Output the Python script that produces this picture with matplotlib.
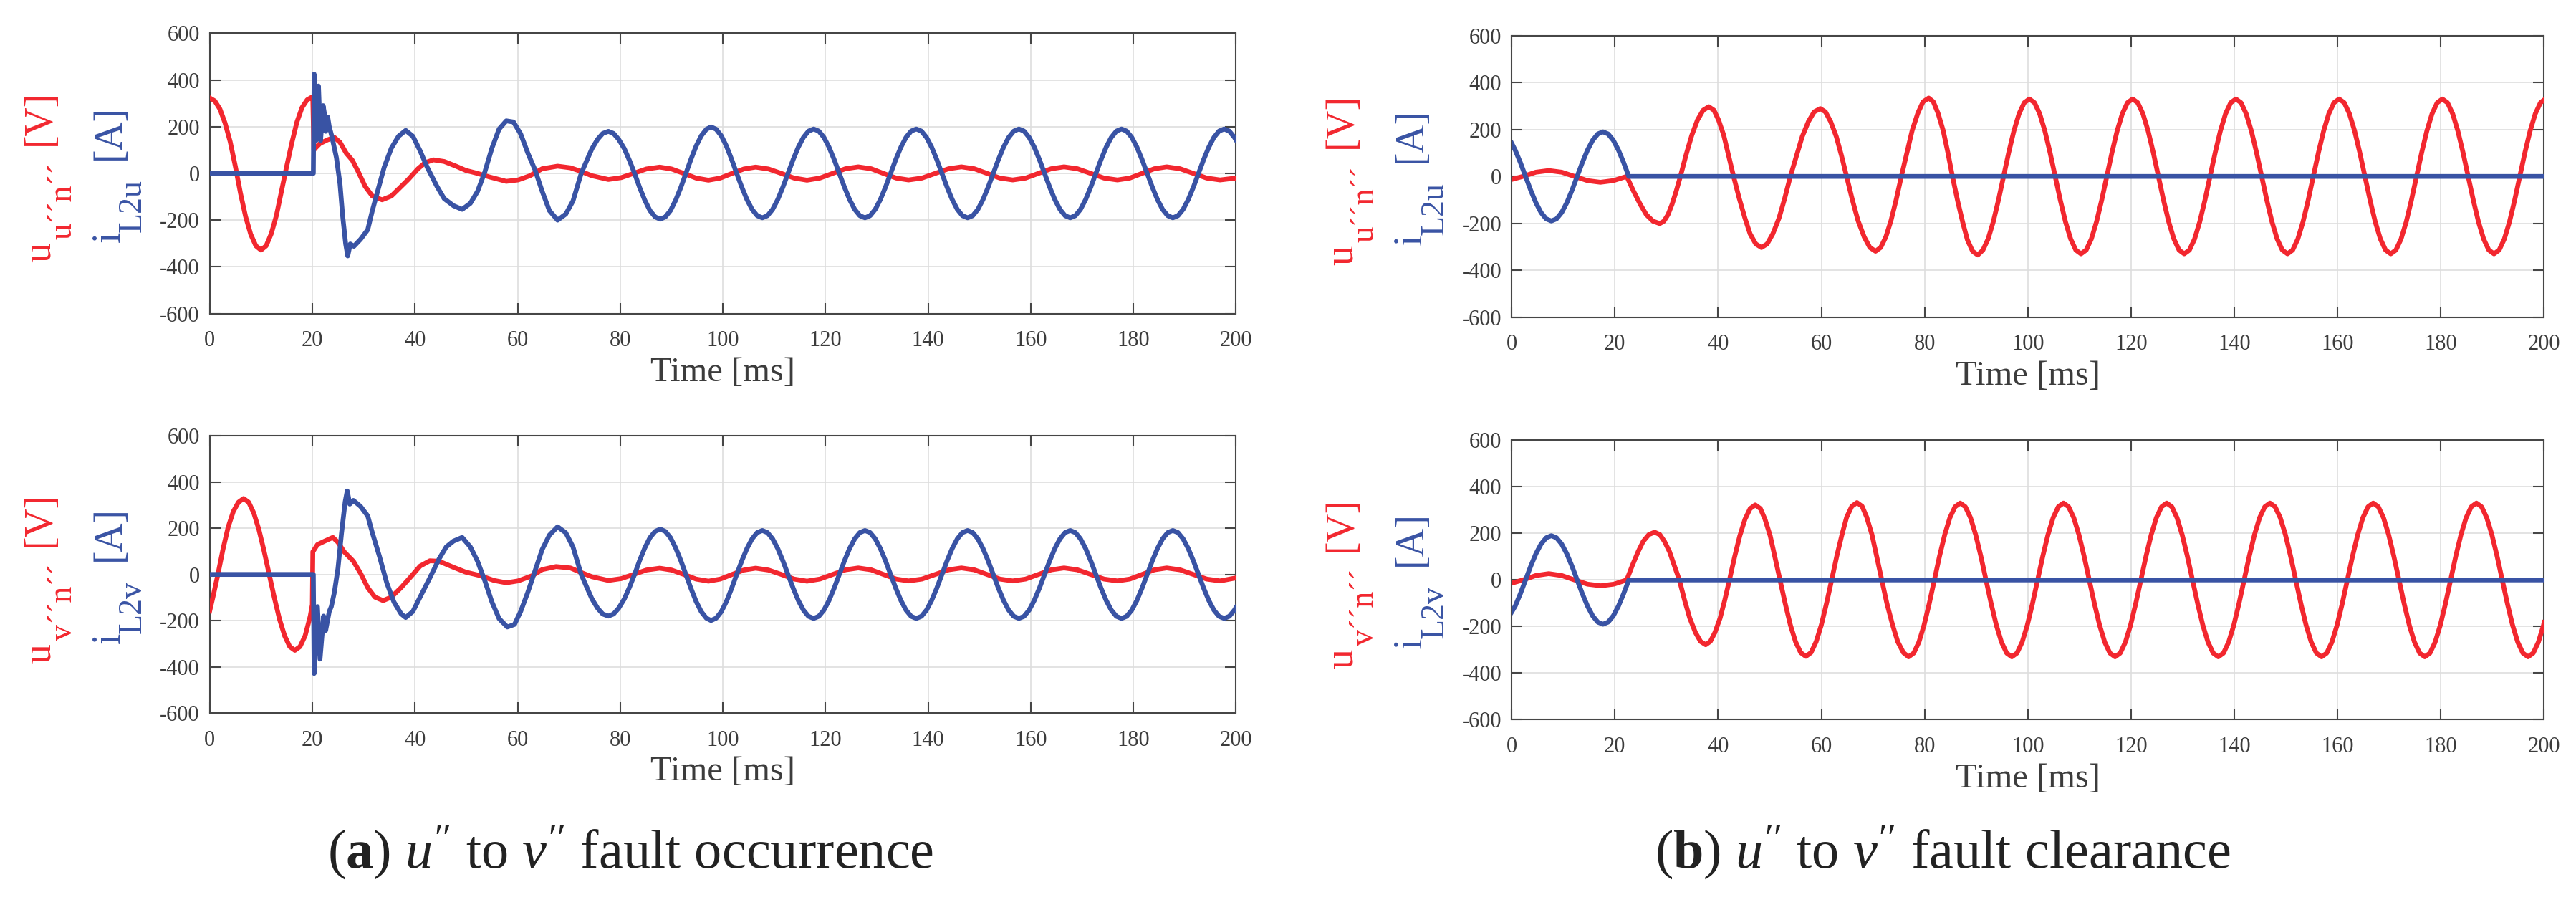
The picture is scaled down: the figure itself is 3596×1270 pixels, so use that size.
import matplotlib
matplotlib.use("Agg")
import matplotlib.pyplot as plt

plt.rcParams['font.family'] = ['Liberation Serif', 'DejaVu Serif']
plt.rcParams['mathtext.fontset'] = 'custom'
plt.rcParams['mathtext.rm'] = 'Liberation Serif'
plt.rcParams['mathtext.it'] = 'Liberation Serif:italic'
plt.rcParams['mathtext.bf'] = 'Liberation Serif:bold'

# ---------------- axes ticks ----------------
x_ticks = [0, 20, 40, 60, 80, 100, 120, 140, 160, 180, 200]
y_ticks = [-600, -400, -200, 0, 200, 400, 600]

# ---------------- (a) fault occurrence ----------------
# voltage u''n'' (red, top-left)
t_uu_a_tr = [0, 1, 2, 3, 4, 5, 6, 7, 8, 9, 10, 11, 12, 13, 14, 15, 16, 17, 18, 19,
             19.8, 20.1, 20.3, 20.6, 21.5, 22.9, 24.3, 25.4, 26.6, 27.8,
             29.0, 30.3, 31.7, 33.6, 35.4, 36.8, 38.7, 40.6, 42.0, 43.6,
             45.7, 48.0, 49.9, 52.2, 54.5, 57.8, 60.1, 62.4, 64.8, 67.8,
             70.3, 72.2]
v_uu_a_tr = [323, 310, 275, 215, 135, 30, -85, -185, -261, -310, -328, -310, -258, -180, -75, 30, 130, 220, 282, 315,
             325, 320, 100, 108, 128, 143, 154, 133, 87, 56,
             5, -56, -97, -113, -97, -67, -26, 20, 46, 58,
             51, 31, 13, 0, -15, -34, -28, -10, 20, 31,
             24, 10]
# voltage v''n'' (red, bottom-left)
t_vv_a_tr = [0, 0.6, 1.6, 2.6, 3.6, 4.6, 5.6, 6.6, 7.6, 8.6,
             9.6, 10.6, 11.6, 12.6, 13.6, 14.6, 15.6, 16.6, 17.6, 18.6,
             19.6, 20.0, 20.1, 21.0, 22.4, 24.0, 25.0, 26.2, 28.0, 29.4,
             30.8, 32.2, 33.8, 35.4, 37.3, 39.2, 41.0, 42.9, 44.7, 47.5,
             49.9, 52.7, 55.4, 57.8, 60.1, 62.9, 64.8, 67.5, 70.3, 72.2]
v_vv_a_tr = [-158, -101, 0, 110, 205, 272, 312, 328, 312, 265,
             193, 101, 0, -101, -193, -265, -312, -328, -312, -265,
             -180, -130, 98, 129, 144, 160, 139, 98, 57, 5,
             -57, -98, -113, -98, -57, -10, 36, 59, 57, 31,
             10, -5, -26, -36, -28, -5, 21, 34, 28, 10]
# post-fault steady voltage (both phases)
t_u_a_ss = [74.5, 77.7, 80.2, 82.6, 85.1, 87.7, 90.0, 92.4, 94.8, 97.2,
            99.5, 101.8, 104.1, 106.4, 108.9, 111.4, 113.9, 116.4, 118.9, 121.4,
            123.9, 126.4, 128.9, 131.3, 133.8, 136.2, 138.8, 141.4, 144.0, 146.5,
            149.0, 151.5, 154.0, 156.5, 159.0, 161.5, 164.0, 166.5, 169.1, 171.7,
            174.3, 176.9, 179.3, 181.7, 184.1, 186.5, 189.1, 191.7, 194.3, 196.9,
            200]
v_uu_a_ss = [-10, -26, -18, 0, 19, 27, 19, 0, -20, -29,
             -20, 0, 19, 27, 19, 0, -20, -29, -20, 0,
             20, 28, 20, 0, -20, -28, -20, 0, 20, 28,
             20, 0, -20, -28, -20, 0, 20, 28, 20, 0,
             -20, -28, -20, 0, 20, 28, 20, 0, -20, -28,
             -20]
v_vv_a_ss = [-10, -26, -18, 0, 19, 27, 19, 0, -20, -29,
             -20, 0, 19, 27, 19, 0, -20, -29, -20, 0,
             20, 28, 20, 0, -20, -28, -20, 0, 20, 28,
             20, 0, -20, -28, -20, 0, 20, 28, 20, 0,
             -20, -28, -20, 0, 20, 28, 20, 0, -20, -28,
             -15]

# current iL2u (blue, top-left)
t_iu_a_tr = [0, 20.2, 20.35, 20.7, 21.2, 21.6, 22.1, 22.4, 22.6, 23.0,
             23.3, 23.8, 24.7, 25.4, 25.9, 26.5, 26.9, 27.4, 28.1, 29.4,
             30.8, 31.7, 32.6, 34.0, 35.4, 36.8, 38.2, 39.6, 41.0, 42.4,
             44.3, 45.7, 47.5, 49.2, 50.8, 52.2, 53.6, 55.0, 56.4, 57.8,
             59.2, 60.6, 62.0, 63.4, 64.8, 66.2, 67.8, 69.4, 70.8, 72.4]
i_u_a_tr = [0, 0, 425, 140, 374, 140, 290, 251, 180, 241,
            200, 159, 67, -46, -179, -302, -353, -302, -312, -282,
            -241, -159, -87, 26, 108, 159, 184, 159, 97, 26,
            -56, -108, -138, -154, -128, -77, 5, 108, 190, 225,
            220, 169, 87, 15, -77, -159, -200, -174, -118, 0]
# current iL2v (blue, bottom-left)
t_iv_a_tr = [0, 20.2, 20.35, 21.0, 21.5, 22.2, 22.6, 23.3, 23.7, 24.3,
             25.0, 25.7, 26.4, 26.8, 27.3, 28.0, 29.4, 30.8, 31.7, 33.1,
             34.5, 35.9, 37.3, 38.2, 39.6, 41.0, 42.9, 44.7, 46.1, 47.5,
             49.2, 50.8, 52.2, 53.6, 55.0, 56.4, 58.0, 59.4, 60.6, 62.0,
             63.4, 64.8, 66.2, 67.8, 69.4, 70.8, 72.4]
i_v_a_tr = [0, 0, -428, -139, -366, -180, -242, -160, -139, -77,
            26, 180, 314, 361, 304, 320, 294, 253, 180, 77,
            -36, -119, -170, -186, -160, -98, -15, 67, 119, 144,
            160, 119, 57, -26, -119, -191, -227, -216, -160, -77,
            15, 108, 170, 206, 180, 119, 0]
# post-fault steady currents
t_i_a_ss = [73.5, 74.5, 75.6, 76.6, 77.7, 78.7, 79.7, 80.8, 81.8, 82.8,
            83.8, 84.8, 85.8, 86.8, 87.8, 88.8, 89.8, 90.8, 91.8, 92.8,
            93.8, 94.8, 95.8, 96.8, 97.7, 98.7, 99.7, 100.7, 101.7, 102.7,
            103.7, 104.7, 105.7, 106.7, 107.7, 108.7, 109.7, 110.7, 111.7, 112.7,
            113.7, 114.7, 115.7, 116.7, 117.7, 118.7, 119.7, 120.7, 121.7, 122.7,
            123.7, 124.7, 125.7, 126.7, 127.7, 128.7, 129.7, 130.7, 131.7, 132.7,
            133.7, 134.7, 135.7, 136.7, 137.7, 138.7, 139.7, 140.7, 141.7, 142.7,
            143.7, 144.7, 145.7, 146.7, 147.7, 148.7, 149.7, 150.7, 151.7, 152.7,
            153.7, 154.7, 155.7, 156.7, 157.7, 158.7, 159.7, 160.7, 161.7, 162.7,
            163.7, 164.7, 165.7, 166.7, 167.7, 168.7, 169.7, 170.7, 171.7, 172.7,
            173.7, 174.7, 175.7, 176.7, 177.7, 178.7, 179.7, 180.7, 181.7, 182.7,
            183.7, 184.7, 185.7, 186.7, 187.7, 188.7, 189.7, 190.7, 191.7, 192.7,
            193.7, 194.7, 195.7, 196.7, 197.7, 198.7, 199.7, 200]
i_u_a_ss = [56, 106, 146, 171, 180, 171, 146, 106, 56, 0,
            -61, -115, -159, -186, -196, -186, -159, -115, -61, 0,
            61, 117, 161, 189, 199, 189, 161, 117, 61, 0,
            -59, -112, -154, -181, -190, -181, -154, -112, -59, 0,
            59, 112, 154, 181, 190, 181, 154, 112, 59, 0,
            -59, -112, -154, -181, -190, -181, -154, -112, -59, 0,
            59, 112, 154, 181, 190, 181, 154, 112, 59, 0,
            -59, -112, -154, -181, -190, -181, -154, -112, -59, 0,
            59, 112, 154, 181, 190, 181, 154, 112, 59, 0,
            -59, -112, -154, -181, -190, -181, -154, -112, -59, 0,
            59, 112, 154, 181, 190, 181, 154, 112, 59, 0,
            -59, -112, -154, -181, -190, -181, -154, -112, -59, 0,
            59, 112, 154, 181, 190, 181, 154, 143]
i_v_a_ss = [-56, -106, -146, -171, -180, -171, -146, -106, -56, 0,
            61, 115, 159, 186, 196, 186, 159, 115, 61, 0,
            -61, -117, -161, -189, -199, -189, -161, -117, -61, 0,
            59, 112, 154, 181, 190, 181, 154, 112, 59, 0,
            -59, -112, -154, -181, -190, -181, -154, -112, -59, 0,
            59, 112, 154, 181, 190, 181, 154, 112, 59, 0,
            -59, -112, -154, -181, -190, -181, -154, -112, -59, 0,
            59, 112, 154, 181, 190, 181, 154, 112, 59, 0,
            -59, -112, -154, -181, -190, -181, -154, -112, -59, 0,
            59, 112, 154, 181, 190, 181, 154, 112, 59, 0,
            -59, -112, -154, -181, -190, -181, -154, -112, -59, 0,
            59, 112, 154, 181, 190, 181, 154, 112, 59, 0,
            -59, -112, -154, -181, -190, -181, -154, -143]

# ---------------- (b) fault clearance ----------------
t_uu_b = [0, 2.2, 4.7, 7.2, 9.7, 12.2, 14.7, 17.2, 19.7, 22.3,
          23.6, 24.9, 26.1, 27.4, 28.7, 29.5, 30.3, 31.1, 31.9, 32.7,
          33.8, 34.9, 36.0, 37.1, 38.2, 39.2, 40.1, 41.1, 42.0, 43.0,
          44.1, 45.2, 46.2, 47.3, 48.4, 49.5, 50.6, 51.8, 52.9, 54.0,
          55.2, 56.3, 57.5, 58.6, 59.8, 60.8, 61.8, 62.9, 63.9, 64.9,
          66.0, 67.1, 68.3, 69.4, 70.5, 71.5, 72.5, 73.5, 74.5, 75.5,
          76.6, 77.6, 78.7, 79.7, 80.8, 81.7, 82.6, 83.6, 84.5, 85.4,
          86.4, 87.4, 88.3, 89.3, 90.3,
          91.3, 92.3, 93.3, 94.3, 95.3, 96.3, 97.3, 98.3, 99.3, 100.3,
          101.3, 102.3, 103.3, 104.3, 105.3, 106.3, 107.3, 108.3, 109.3, 110.3,
          111.3, 112.3, 113.3, 114.3, 115.3, 116.3, 117.3, 118.3, 119.3, 120.3,
          121.3, 122.3, 123.3, 124.3, 125.3, 126.3, 127.3, 128.3, 129.3, 130.3,
          131.3, 132.3, 133.3, 134.3, 135.3, 136.3, 137.3, 138.3, 139.3, 140.3,
          141.3, 142.3, 143.3, 144.3, 145.3, 146.3, 147.3, 148.3, 149.3, 150.3,
          151.3, 152.3, 153.3, 154.3, 155.3, 156.3, 157.3, 158.3, 159.3, 160.3,
          161.3, 162.3, 163.3, 164.3, 165.3, 166.3, 167.3, 168.3, 169.3, 170.3,
          171.3, 172.3, 173.3, 174.3, 175.3, 176.3, 177.3, 178.3, 179.3, 180.3,
          181.3, 182.3, 183.3, 184.3, 185.3, 186.3, 187.3, 188.3, 189.3, 190.3,
          191.3, 192.3, 193.3, 194.3, 195.3, 196.3, 197.3, 198.3, 199.3, 200]
v_uu_b = [-13, 0, 18, 25, 18, 0, -18, -25, -18, 0,
          -62, -118, -163, -191, -201, -191, -163, -118, -62, 0,
          92, 175, 240, 282, 297, 282, 240, 175, 92, 0,
          -94, -178, -245, -288, -303, -288, -245, -178, -94, 0,
          89, 170, 234, 275, 289, 275, 234, 170, 89, 0,
          -99, -188, -258, -303, -319, -303, -258, -188, -99, 0,
          103, 196, 270, 318, 334, 318, 270, 196, 103, 0,
          -104, -197, -271, -319, -335,
          -314, -267, -194, -102, 0, 102, 194, 267, 314, 330,
          314, 267, 194, 102, 0, -102, -194, -267, -314, -330,
          -314, -267, -194, -102, 0, 102, 194, 267, 314, 330,
          314, 267, 194, 102, 0, -102, -194, -267, -314, -330,
          -314, -267, -194, -102, 0, 102, 194, 267, 314, 330,
          314, 267, 194, 102, 0, -102, -194, -267, -314, -330,
          -314, -267, -194, -102, 0, 102, 194, 267, 314, 330,
          314, 267, 194, 102, 0, -102, -194, -267, -314, -330,
          -314, -267, -194, -102, 0, 102, 194, 267, 314, 330,
          314, 267, 194, 102, 0, -102, -194, -267, -314, -330,
          -314, -267, -194, -102, 0, 102, 194, 267, 314, 326]

t_vv_b = [0, 2.2, 4.7, 7.2, 9.7, 12.2, 14.7, 17.3, 19.8, 22.3,
          23.4, 24.5, 25.5, 26.6, 27.7, 28.7, 29.6, 30.6, 31.5, 32.5,
          33.5, 34.5, 35.6, 36.6, 37.6, 38.5, 39.4, 40.4, 41.3, 42.2,
          43.2, 44.2, 45.2, 46.2, 47.2, 48.2, 49.1, 50.1, 51.0, 52.0,
          53.0, 54.0, 55.0, 56.0, 57.0, 58.0, 59.0, 60.0, 61.0, 62.0,
          63.0, 64.0, 64.9, 65.9, 66.9, 67.9, 68.8, 69.8, 70.7, 71.7,
          72.7, 73.8, 74.8, 75.9, 76.9,
          77.9, 78.9, 79.9, 80.9, 81.9, 82.9, 83.9, 84.9, 85.9, 86.9,
          87.9, 88.9, 89.9, 90.9, 91.9, 92.9, 93.9, 94.9, 95.9, 96.9,
          97.9, 98.9, 99.9, 100.9, 101.9, 102.9, 103.9, 104.9, 105.9, 106.9,
          107.9, 108.9, 109.9, 110.9, 111.9, 112.9, 113.9, 114.9, 115.9, 116.9,
          117.9, 118.9, 119.9, 120.9, 121.9, 122.9, 123.9, 124.9, 125.9, 126.9,
          127.9, 128.9, 129.9, 130.9, 131.9, 132.9, 133.9, 134.9, 135.9, 136.9,
          137.9, 138.9, 139.9, 140.9, 141.9, 142.9, 143.9, 144.9, 145.9, 146.9,
          147.9, 148.9, 149.9, 150.9, 151.9, 152.9, 153.9, 154.9, 155.9, 156.9,
          157.9, 158.9, 159.9, 160.9, 161.9, 162.9, 163.9, 164.9, 165.9, 166.9,
          167.9, 168.9, 169.9, 170.9, 171.9, 172.9, 173.9, 174.9, 175.9, 176.9,
          177.9, 178.9, 179.9, 180.9, 181.9, 182.9, 183.9, 184.9, 185.9, 186.9,
          187.9, 188.9, 189.9, 190.9, 191.9, 192.9, 193.9, 194.9, 195.9, 196.9,
          197.9, 198.9, 199.9, 200]
v_vv_b = [-14, 0, 19, 27, 19, 0, -18, -25, -18, 0,
          63, 121, 166, 195, 205, 195, 166, 121, 63, 0,
          -86, -163, -225, -264, -278, -264, -225, -163, -86, 0,
          99, 189, 260, 306, 322, 306, 260, 189, 99, 0,
          -101, -193, -265, -312, -328, -312, -265, -193, -101, 0,
          103, 195, 269, 316, 332, 316, 269, 195, 103, 0,
          -101, -193, -265, -312, -330,
          -314, -267, -194, -102, 0, 102, 194, 267, 314, 330,
          314, 267, 194, 102, 0, -102, -194, -267, -314, -330,
          -314, -267, -194, -102, 0, 102, 194, 267, 314, 330,
          314, 267, 194, 102, 0, -102, -194, -267, -314, -330,
          -314, -267, -194, -102, 0, 102, 194, 267, 314, 330,
          314, 267, 194, 102, 0, -102, -194, -267, -314, -330,
          -314, -267, -194, -102, 0, 102, 194, 267, 314, 330,
          314, 267, 194, 102, 0, -102, -194, -267, -314, -330,
          -314, -267, -194, -102, 0, 102, 194, 267, 314, 330,
          314, 267, 194, 102, 0, -102, -194, -267, -314, -330,
          -314, -267, -194, -102, 0, 102, 194, 267, 314, 330,
          314, 267, 194, 102, 0, -102, -194, -267, -314, -330,
          -314, -267, -194, -182]

t_i_b = [0, 0.7, 1.7, 2.7, 3.7, 4.7, 5.7, 6.7, 7.7, 8.7, 9.7, 10.7, 11.7, 12.7,
         13.7, 14.7, 15.7, 16.7, 17.7, 18.7, 19.7, 20.7, 21.7, 22.7, 200]
i_u_b = [142, 112, 59, 0, -59, -112, -154, -181, -190, -181, -154, -112, -59, 0,
         59, 112, 154, 181, 190, 181, 154, 112, 59, 0, 0]
i_v_b = [-138, -112, -59, 0, 59, 112, 154, 181, 190, 181, 154, 112, 59, 0,
         -59, -112, -154, -181, -190, -181, -154, -112, -59, 0, 0]

# ---------------- labels ----------------
# (main symbol, subscript, unit)
lab_u_red = ("u", "u\u00b4\u00b4n\u00b4\u00b4", "[V]")
lab_v_red = ("u", "v\u00b4\u00b4n\u00b4\u00b4", "[V]")
lab_u_blue = ("i", "L2u", "[A]")
lab_v_blue = ("i", "L2v", "[A]")
caption_a = r"($\mathbf{a}$) $u^{\prime\prime}$ to $v^{\prime\prime}$ fault occurrence"
caption_b = r"($\mathbf{b}$) $u^{\prime\prime}$ to $v^{\prime\prime}$ fault clearance"

RED = '#F2272F'
BLUE = '#3953A4'
AX_COL = '#464646'
TXT_COL = '#3c3c3c'

FIG_W, FIG_H = 3596, 1270
fig = plt.figure(figsize=(FIG_W / 100, FIG_H / 100), dpi=100)

panels = [
    ([0.0814, 0.6554, 0.3984, 0.3081], t_uu_a_tr + t_u_a_ss, v_uu_a_tr + v_uu_a_ss,
     t_iu_a_tr + t_i_a_ss, i_u_a_tr + i_u_a_ss, lab_u_red, lab_u_blue),
    ([0.0814, 0.2162, 0.3984, 0.3051], t_vv_a_tr + t_u_a_ss, v_vv_a_tr + v_vv_a_ss,
     t_iv_a_tr + t_i_a_ss, i_v_a_tr + i_v_a_ss, lab_v_red, lab_v_blue),
    ([0.5868, 0.6515, 0.4008, 0.3093], t_uu_b, v_uu_b, t_i_b, i_u_b, lab_u_red, lab_u_blue),
    ([0.5868, 0.2091, 0.4008, 0.3072], t_vv_b, v_vv_b, t_i_b, i_v_b, lab_v_red, lab_v_blue),
]

M_SIZE = 40
S_SIZE = 33


def rot_text(xp, yp, s, color, size):
    fig.text(xp / FIG_W, yp / FIG_H, s, rotation=90, rotation_mode='anchor',
             ha='left', va='baseline', color=color, fontsize=size)


for rect, tr, vr, tb, vb, lr, lb in panels:
    ax = fig.add_axes(rect)
    ax.plot(tr, vr, color=RED, lw=4.8, solid_joinstyle='round', zorder=3)
    ax.plot(tb, vb, color=BLUE, lw=4.8, solid_joinstyle='round', zorder=4)
    ax.set_xlim(0, 200)
    ax.set_ylim(-600, 600)
    ax.set_xticks(x_ticks)
    ax.set_yticks(y_ticks)
    ax.set_xticklabels([str(v) for v in x_ticks])
    ax.set_yticklabels([str(v) for v in y_ticks])
    ax.grid(True, color='#dedede', lw=1.2)
    ax.set_axisbelow(True)
    ax.tick_params(direction='in', length=10.5, width=1.5, color=AX_COL,
                   top=True, right=True, labelsize=22, labelcolor=TXT_COL)
    ax.tick_params(axis='x', pad=17)
    ax.tick_params(axis='y', pad=10)
    for s in ax.spines.values():
        s.set_color(AX_COL)
        s.set_linewidth(1.5)
    ax.set_xlabel('Time [ms]', fontsize=35, color=TXT_COL)
    ax.xaxis.set_label_coords(0.5, -0.155)

    # composite rotated y-labels (positions in pixels relative to axes)
    left_px = rect[0] * FIG_W
    cy = (rect[1] + rect[3] / 2) * FIG_H
    # red: u_{...} [V]
    rot_text(left_px - 222.8, cy - 124, lr[0], RED, M_SIZE)
    rot_text(left_px - 192.8, cy - 92, lr[1], RED, S_SIZE)
    rot_text(left_px - 222.8, cy + 39, lr[2], RED, M_SIZE)
    # blue: i_{...} [A]
    rot_text(left_px - 125.8, cy - 96, lb[0], BLUE, M_SIZE)
    rot_text(left_px - 95.8, cy - 82, lb[1], BLUE, S_SIZE)
    rot_text(left_px - 125.8, cy + 19, lb[2], BLUE, M_SIZE)

fig.text(0.2448, 0.0457, caption_a, ha='center', va='baseline', fontsize=55, color='#222222')
fig.text(0.7542, 0.0457, caption_b, ha='center', va='baseline', fontsize=55, color='#222222')

fig.savefig('out.png', dpi=100)
